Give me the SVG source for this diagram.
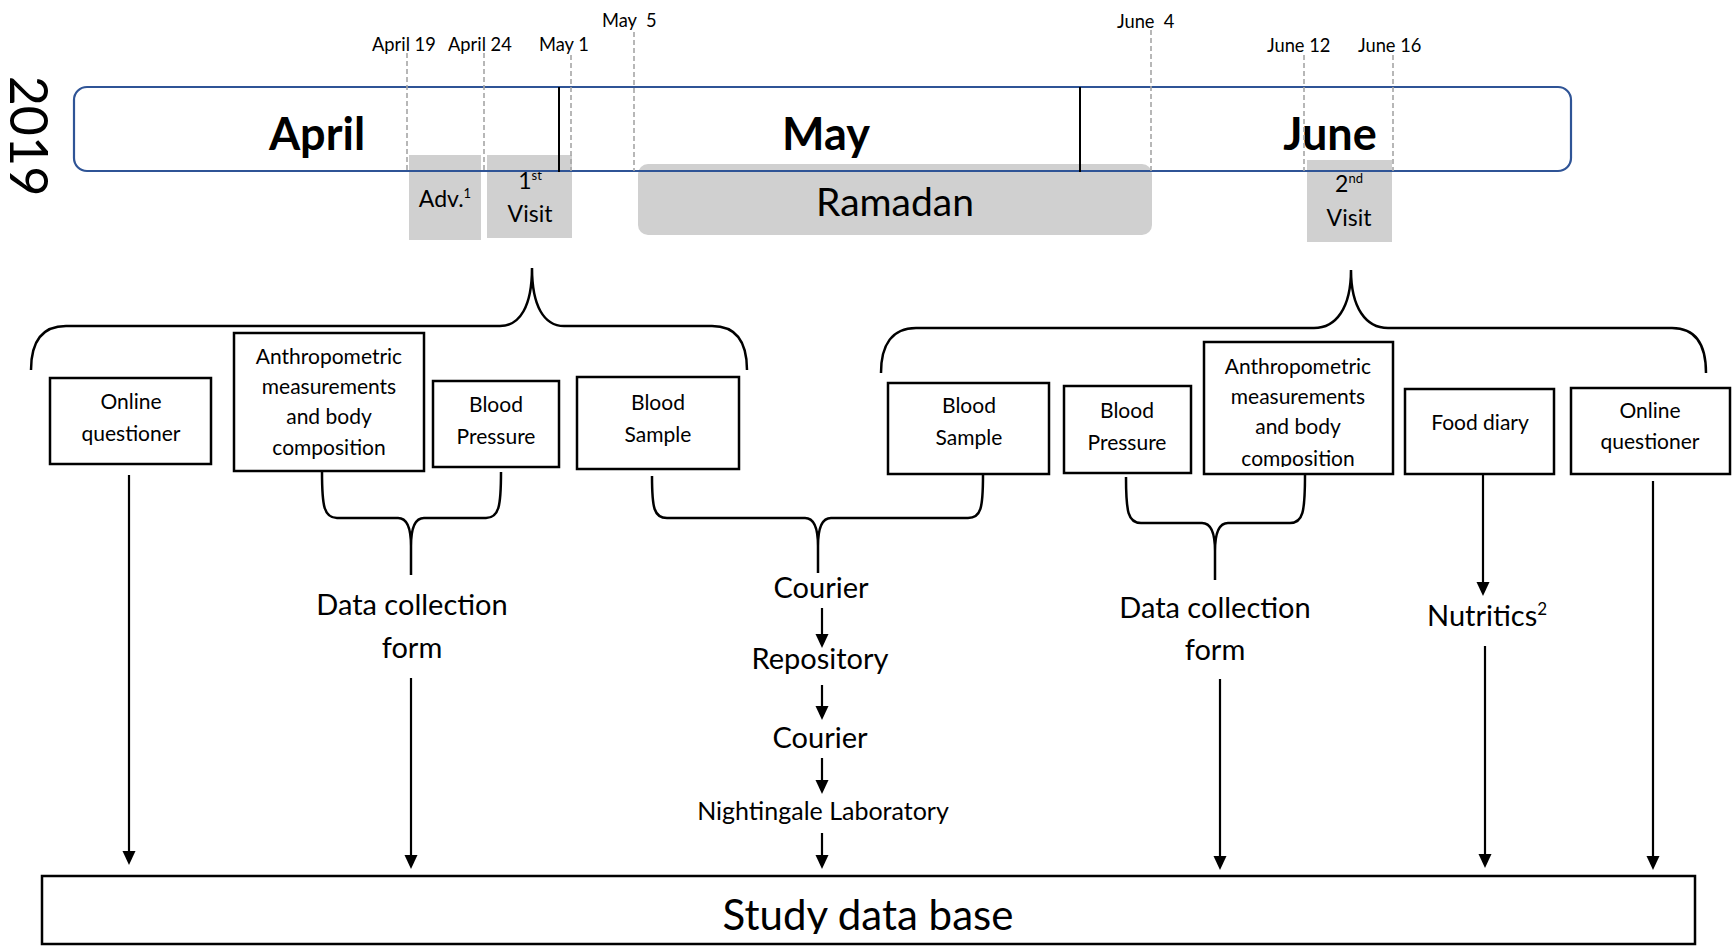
<svg xmlns="http://www.w3.org/2000/svg" width="1732" height="947" viewBox="0 0 1732 947">
<style>
text{font-family:Lato,"Liberation Sans",sans-serif;fill:#000}
.box{fill:#fff;stroke:#000;stroke-width:2.5}
.gray{fill:#D0D0D0}
.bt{font-size:21px;text-anchor:middle}
.lbl{font-size:29px;text-anchor:middle}
.date{font-size:18.3px}
.dash{stroke:#A6A6A6;stroke-width:1.6;stroke-dasharray:5 3;fill:none}
.month{font-size:45px;font-weight:bold;text-anchor:middle}
.gt{font-size:23px;text-anchor:middle}
.br{fill:none;stroke:#000;stroke-width:2.5}
.ar{stroke:#000;stroke-width:2.2;fill:none;marker-end:url(#ah)}
</style>
<defs>
<marker id="ah" markerUnits="userSpaceOnUse" markerWidth="16" markerHeight="14" refX="10" refY="6.5" orient="auto">
<path d="M0,0 L14,6.5 L0,13 Z" fill="#000"/>
</marker>
<clipPath id="clipA2"><rect x="1204" y="342" width="189" height="125"/></clipPath>
<clipPath id="clipDB"><rect x="42" y="876" width="1653" height="58"/></clipPath>
</defs>
<rect width="1732" height="947" fill="#fff"/>

<g id="year"><text transform="translate(10,136) rotate(90)" font-size="52" text-anchor="middle">2019</text></g>

<g id="timeline">
<rect x="74" y="87" width="1497" height="84" rx="13" fill="#fff"/>
</g>

<g id="adv"><rect class="gray" x="409" y="155" width="72" height="85"/><text class="gt" x="445" y="207">Adv.<tspan font-size="13" dy="-9">1</tspan></text></g>
<g id="visit1"><rect class="gray" x="487" y="155" width="85" height="83"/><text class="gt" x="530" y="189">1<tspan font-size="13" dy="-9">st</tspan></text><text class="gt" x="530" y="222">Visit</text></g>
<g id="ramadan"><rect class="gray" x="638" y="164" width="514" height="71" rx="10"/><text x="895" y="216" font-size="39" text-anchor="middle">Ramadan</text></g>
<g id="visit2"><rect class="gray" x="1307" y="160" width="85" height="82"/><text class="gt" x="1349" y="192">2<tspan font-size="13" dy="-9">nd</tspan></text><text class="gt" x="1349" y="226">Visit</text></g>

<g id="timeline-frame">
<rect x="74" y="87" width="1497" height="84" rx="13" fill="none" stroke="#2F5496" stroke-width="2.2"/>
<line x1="559" y1="87" x2="559" y2="172" stroke="#000" stroke-width="2"/>
<line x1="1080" y1="87" x2="1080" y2="172" stroke="#000" stroke-width="2"/>
<text class="month" x="317" y="150">April</text>
<text class="month" x="826" y="150">May</text>
<text class="month" x="1330" y="150">June</text>
</g>

<g id="dates">
<line class="dash" x1="407" y1="53" x2="407" y2="171"/>
<line class="dash" x1="484" y1="53" x2="484" y2="171"/>
<line class="dash" x1="571" y1="55" x2="571" y2="171"/>
<line class="dash" x1="634" y1="32" x2="634" y2="171"/>
<line class="dash" x1="1151" y1="30" x2="1151" y2="171"/>
<line class="dash" x1="1304" y1="55" x2="1304" y2="171"/>
<line class="dash" x1="1393" y1="55" x2="1393" y2="171"/>
<text class="date" x="372" y="51">April 19</text>
<text class="date" x="448" y="51">April 24</text>
<text class="date" x="539" y="51">May 1</text>
<text class="date" x="602" y="27" xml:space="preserve">May  5</text>
<text class="date" x="1117" y="28" xml:space="preserve">June  4</text>
<text class="date" x="1267" y="52">June 12</text>
<text class="date" x="1358" y="52">June 16</text>
</g>

<g id="oq1"><rect class="box" x="50" y="378" width="161" height="86"/><text class="bt" x="131" y="409">Online</text><text class="bt" x="131" y="441">questioner</text></g>
<g id="anthro1"><rect class="box" x="234" y="333" width="190" height="138"/><text class="bt" x="329" y="364">Anthropometric</text><text class="bt" x="329" y="394">measurements</text><text class="bt" x="329" y="424">and body</text><text class="bt" x="329" y="455">composition</text></g>
<g id="bp1"><rect class="box" x="433" y="381" width="126" height="86"/><text class="bt" x="496" y="412">Blood</text><text class="bt" x="496" y="444">Pressure</text></g>
<g id="bs1"><rect class="box" x="577" y="377" width="162" height="92"/><text class="bt" x="658" y="410">Blood</text><text class="bt" x="658" y="442">Sample</text></g>
<g id="bs2"><rect class="box" x="888" y="383" width="161" height="91"/><text class="bt" x="969" y="413">Blood</text><text class="bt" x="969" y="445">Sample</text></g>
<g id="bp2"><rect class="box" x="1064" y="386" width="127" height="87"/><text class="bt" x="1127" y="418">Blood</text><text class="bt" x="1127" y="450">Pressure</text></g>
<g id="anthro2"><rect class="box" x="1204" y="342" width="189" height="132"/><g clip-path="url(#clipA2)"><text class="bt" x="1298" y="374">Anthropometric</text><text class="bt" x="1298" y="404">measurements</text><text class="bt" x="1298" y="434">and body</text><text class="bt" x="1298" y="466">composition</text></g></g>
<g id="food"><rect class="box" x="1405" y="389" width="149" height="85"/><text class="bt" x="1480" y="430">Food diary</text></g>
<g id="oq2"><rect class="box" x="1571" y="388" width="159" height="86"/><text class="bt" x="1650" y="418">Online</text><text class="bt" x="1650" y="449">questioner</text></g>

<g id="dcf1"><text class="lbl" x="412" y="615">Data collection</text><text class="lbl" x="412" y="658">form</text></g>
<g id="courier1"><text class="lbl" x="821" y="598">Courier</text></g>
<g id="repository"><text class="lbl" x="820" y="669">Repository</text></g>
<g id="courier2"><text class="lbl" x="820" y="748">Courier</text></g>
<g id="lab"><text x="823" y="820" font-size="25" text-anchor="middle">Nightingale Laboratory</text></g>
<g id="dcf2"><text class="lbl" x="1215" y="618">Data collection</text><text class="lbl" x="1215" y="660">form</text></g>
<g id="nutritics"><text x="1427" y="626" font-size="29">Nutritics<tspan font-size="17" dy="-11">2</tspan></text></g>
<g id="db"><rect class="box" x="42" y="876" width="1653" height="68"/><text clip-path="url(#clipDB)" x="868" y="930" font-size="42" text-anchor="middle">Study data base</text></g>

<g id="connectors">
<path class="br" d="M31,370 C31,342 42,326 66,326 L500,326 C520,326 532,306 532,268 C532,306 544,326 564,326 L712,326 C736,326 747,342 747,370"/>
<path class="br" d="M881,373 C881,345 892,328 916,328 L1314,328 C1336,328 1351,308 1351,270 C1351,308 1366,328 1388,328 L1672,328 C1696,328 1706,345 1706,373"/>
<path class="br" d="M322,472 C322,506 324,518 337,518 L398,518 C407,518 411,528 411,546 L411,575 M501,472 C501,506 499,518 486,518 L424,518 C415,518 411,528 411,546"/>
<path class="br" d="M652,476 C652,508 654,518 667,518 L805,518 C814,518 818,528 818,546 L818,573 M983,475 C983,508 981,518 968,518 L831,518 C822,518 818,528 818,546"/>
<path class="br" d="M1126,477 C1126,512 1128,523 1141,523 L1202,523 C1211,523 1215,533 1215,551 L1215,580 M1305,475 C1305,512 1303,523 1290,523 L1228,523 C1219,523 1215,533 1215,551"/>
<line class="ar" x1="129" y1="475" x2="129" y2="861"/>
<line class="ar" x1="411" y1="678" x2="411" y2="865"/>
<line class="ar" x1="822" y1="608" x2="822" y2="644"/>
<line class="ar" x1="822" y1="685" x2="822" y2="716"/>
<line class="ar" x1="822" y1="758" x2="822" y2="790"/>
<line class="ar" x1="822" y1="833" x2="822" y2="865"/>
<line class="ar" x1="1220" y1="679" x2="1220" y2="866"/>
<line class="ar" x1="1483" y1="474" x2="1483" y2="592"/>
<line class="ar" x1="1485" y1="646" x2="1485" y2="864"/>
<line class="ar" x1="1653" y1="481" x2="1653" y2="866"/>
</g>
</svg>
